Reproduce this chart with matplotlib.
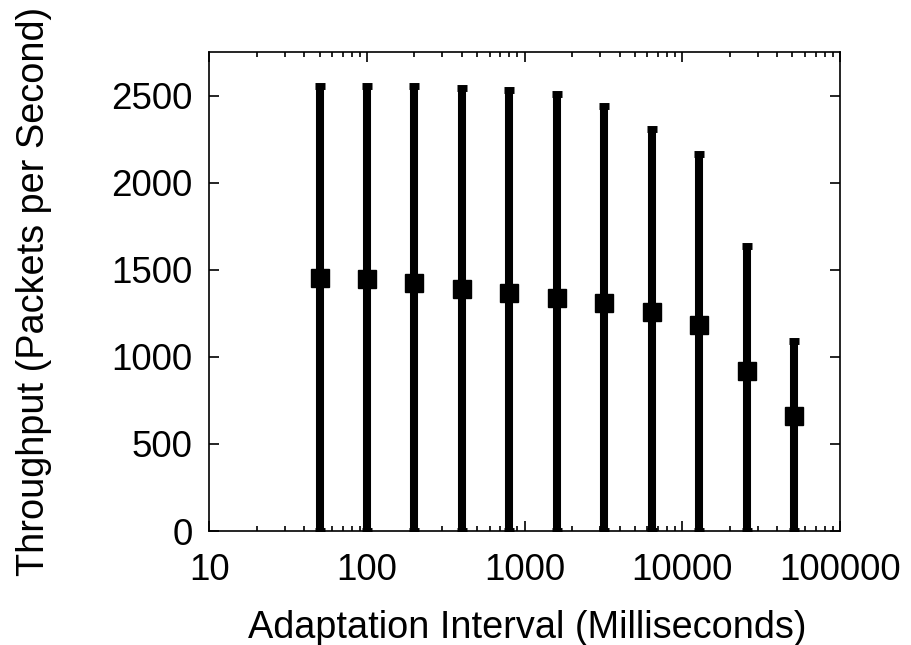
import matplotlib
matplotlib.use("Agg")
import matplotlib.pyplot as plt
import numpy as np
from matplotlib.ticker import LogLocator, FixedLocator, NullFormatter

plt.rcParams['font.family'] = ['Liberation Sans', 'DejaVu Sans']

intervals = [50, 100, 200, 400, 800, 1600, 3200, 6400, 12800, 25600, 51200]
mean_tput = [1451, 1446, 1423, 1388, 1365, 1340, 1308, 1260, 1183, 919, 662]
upper_tput = [2556, 2556, 2556, 2543, 2533, 2508, 2443, 2307, 2165, 1637, 1093]
lower_tput = [0, 0, 0, 0, 0, 0, 0, 0, 0, 0, 0]

x_ticks = [10, 100, 1000, 10000, 100000]
x_ticklabels = ['10', '100', '1000', '10000', '100000']
y_ticks = [0, 500, 1000, 1500, 2000, 2500]
y_ticklabels = ['0', '500', '1000', '1500', '2000', '2500']

W, H = 912, 645
fig = plt.figure(figsize=(W / 100, H / 100), dpi=100)
ax = fig.add_axes([0.2295, 0.1767, 0.9210 - 0.2295, 0.9198 - 0.1767])

m = np.array(mean_tput, dtype=float)
yerr = np.vstack([m - np.array(lower_tput), np.array(upper_tput) - m])
ax.errorbar(intervals, mean_tput, yerr=yerr, fmt='s', color='black',
            ms=12.5, elinewidth=5.8, capsize=3.5, capthick=5.0, clip_on=True,
            zorder=3)

ax.set_xscale('log')
ax.set_xlim(10, 100000)
ax.set_ylim(0, 2752)

ax.xaxis.set_major_locator(FixedLocator(x_ticks))
ax.set_xticklabels(x_ticklabels)
ax.xaxis.set_minor_locator(LogLocator(base=10, subs=np.arange(2, 10), numticks=20))
ax.xaxis.set_minor_formatter(NullFormatter())
ax.set_yticks(y_ticks)
ax.set_yticklabels(y_ticklabels)

ax.tick_params(axis='both', which='major', direction='in', length=7, width=1.2,
               top=True, right=True, labelsize=26.5)
ax.tick_params(axis='x', which='major', pad=16)
ax.tick_params(axis='y', which='major', pad=12)
ax.tick_params(axis='both', which='minor', direction='in', length=3.5, width=1.2,
               top=True, right=True)
for s in ax.spines.values():
    s.set_linewidth(1.2)

fig.text(527.4 / W, 1 - 638 / H, 'Adaptation Interval (Milliseconds)',
         fontsize=27.3, ha='center', va='baseline')
fig.text(34 / W, 1 - 291.5 / H, 'Throughput (Packets per Second)',
         fontsize=27.3, ha='center', va='center', rotation=90)

fig.savefig('out.png', dpi=100)
